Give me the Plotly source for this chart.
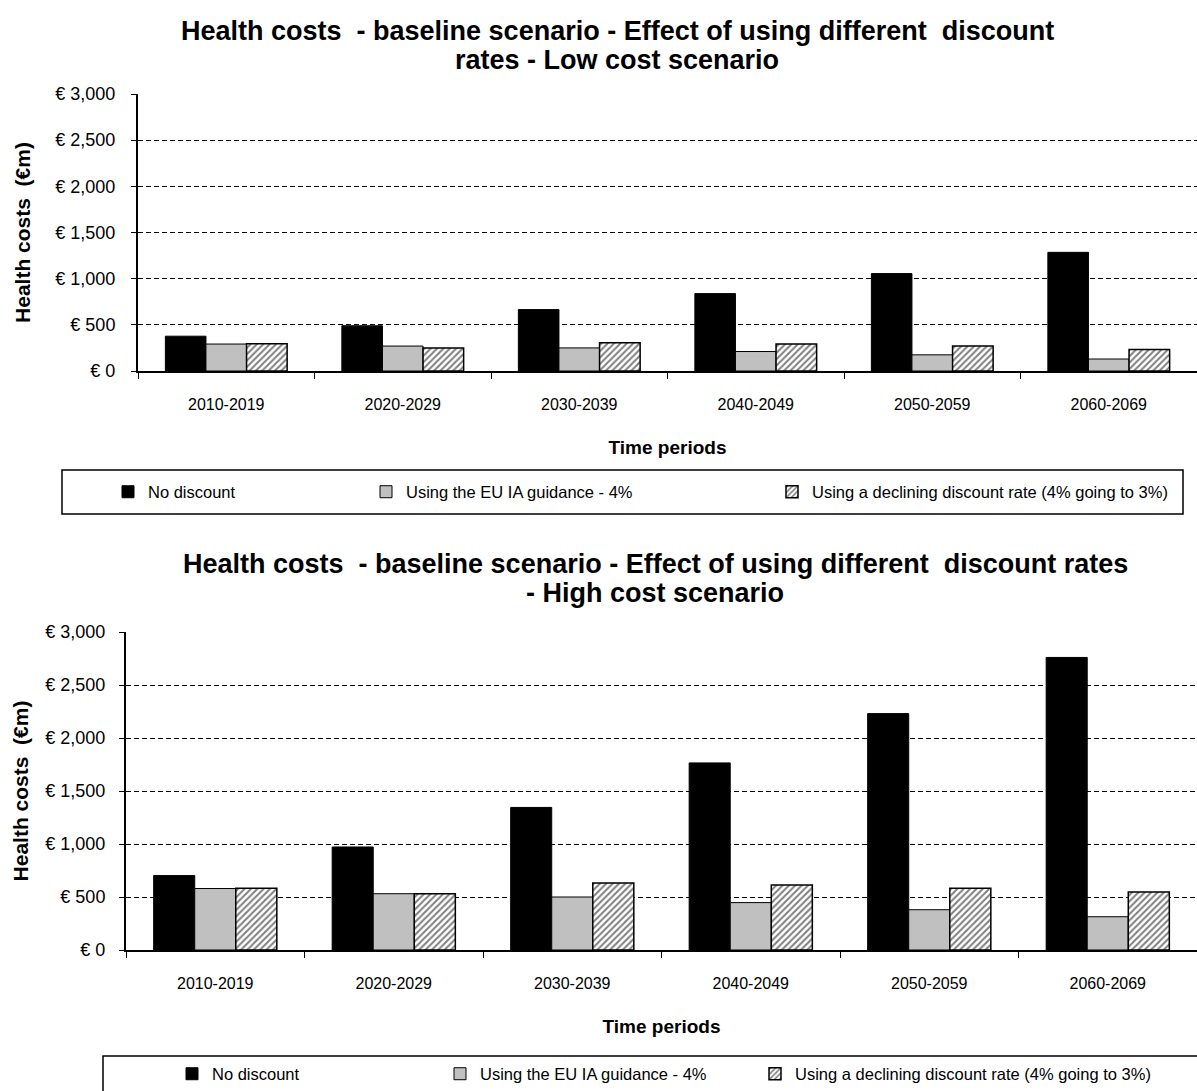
import plotly.graph_objects as go

# Ten-year periods on the category axis
periods = ["2010-2019", "2020-2029", "2030-2039", "2040-2049", "2050-2059", "2060-2069"]

series_names = [
    "No discount",
    "Using the EU IA guidance - 4%",
    "Using a declining discount rate (4% going to 3%)",
]

# Low cost scenario, health costs in €m
low_no_discount = [377, 490, 665, 838, 1055, 1285]
low_eu_guidance = [292, 270, 250, 211, 175, 130]
low_declining = [295, 250, 307, 293, 271, 232]

# High cost scenario, health costs in €m
high_no_discount = [702, 972, 1345, 1765, 2230, 2760]
high_eu_guidance = [580, 531, 500, 447, 380, 314]
high_declining = [582, 531, 632, 613, 582, 547]

# Value axis ticks
y_tickvals = [0, 500, 1000, 1500, 2000, 2500, 3000]
y_ticktext = ["€ 0", "€ 500", "€ 1,000", "€ 1,500", "€ 2,000", "€ 2,500", "€ 3,000"]

top_title = ["Health costs  - baseline scenario - Effect of using different  discount",
             "rates - Low cost scenario"]
bottom_title = ["Health costs  - baseline scenario - Effect of using different  discount rates",
                "- High cost scenario"]

W, H = 1197, 1091
FONT = "Liberation Sans, Arial, sans-serif"


def px_x(p):
    return p / W


def px_y(p):
    return 1 - p / H


def bar_styles():
    return [
        dict(color="black", line=dict(color="black", width=1)),
        dict(color="#c0c0c0", line=dict(color="black", width=1)),
        dict(color="white", line=dict(color="black", width=1.5),
             pattern=dict(shape="/", fgcolor="black", bgcolor="white", size=4.5, solidity=0.45)),
    ]


fig = go.Figure()

groups = [
    ("x", "y", [low_no_discount, low_eu_guidance, low_declining], ["legend2", "legend3", "legend4"]),
    ("x2", "y2", [high_no_discount, high_eu_guidance, high_declining], ["legend5", "legend6", "legend7"]),
]
for xa, ya, values, legends in groups:
    for name, vals, style, lg in zip(series_names, values, bar_styles(), legends):
        fig.add_trace(go.Bar(
            x=periods, y=vals, name=name, marker=style,
            xaxis=xa, yaxis=ya, legend=lg, hoverinfo="x+y+name",
        ))


def yaxis_style(standoff, label_standoff):
    return dict(
        range=[0, 3000], tickvals=y_tickvals, ticktext=y_ticktext,
        showgrid=True, gridcolor="black", gridwidth=1, griddash="5px,3px",
        zeroline=False, showline=True, linecolor="black", linewidth=2,
        ticks="outside", ticklen=5, tickwidth=1, tickcolor="black",
        ticklabelstandoff=label_standoff, automargin=False,
        tickfont=dict(family=FONT, size=18, color="black"),
        title=dict(text="Health costs  (€m)", standoff=standoff,
                   font=dict(family=FONT, size=21, color="black", weight="bold")),
    )


xaxis_common = dict(
    type="category", showgrid=False, zeroline=False,
    showline=True, linecolor="black", linewidth=2,
    ticks="outside", ticklen=6, tickwidth=1, tickcolor="black",
    tickson="boundaries", ticklabelstandoff=18, automargin=False,
    tickfont=dict(family=FONT, size=16, color="black"),
    title=dict(text="Time periods", standoff=28,
               font=dict(family=FONT, size=19, color="black", weight="bold")),
)

fig.update_layout(
    width=W, height=H,
    margin=dict(l=0, r=0, t=0, b=0, autoexpand=False),
    paper_bgcolor="white", plot_bgcolor="white",
    barmode="group", bargap=0.31, bargroupgap=0,
    font=dict(family=FONT, color="black"),
    xaxis=dict(domain=[px_x(138), 1.0], anchor="y", **xaxis_common),
    yaxis=dict(domain=[px_y(371), px_y(94)], anchor="x", **yaxis_style(19, 12)),
    xaxis2=dict(domain=[px_x(126), 1.0], anchor="y2", **xaxis_common),
    yaxis2=dict(domain=[px_y(950), px_y(632)], anchor="x2", **yaxis_style(11, 10)),
)

# One legend per entry so each sits where the boxed legend places it
legend_pos = {
    "legend2": (108, 492), "legend3": (366, 492), "legend4": (772, 492),
    "legend5": (172, 1074), "legend6": (440, 1074), "legend7": (755, 1074),
}
for key, (lx, ly) in legend_pos.items():
    fig.update_layout({key: dict(
        x=px_x(lx), y=px_y(ly), xanchor="left", yanchor="middle",
        orientation="h", bgcolor="rgba(0,0,0,0)", borderwidth=0,
        itemwidth=30, itemclick=False, itemdoubleclick=False,
        font=dict(family=FONT, size=16.5, color="black"),
    )})

# Frames around the legends
fig.add_shape(type="rect", xref="paper", yref="paper",
              x0=px_x(62), x1=px_x(1183), y0=px_y(514), y1=px_y(470),
              line=dict(color="black", width=1.5), fillcolor="rgba(0,0,0,0)", layer="below")
fig.add_shape(type="rect", xref="paper", yref="paper",
              x0=px_x(103), x1=1.01, y0=-0.02, y1=px_y(1056),
              line=dict(color="black", width=1.5), fillcolor="rgba(0,0,0,0)", layer="below")

# Chart titles, one annotation per line
title_lines = [
    (top_title[0], 617, 31), (top_title[1], 617, 60),
    (bottom_title[0], 655, 564), (bottom_title[1], 655, 593),
]
for text, cx, cy in title_lines:
    fig.add_annotation(
        text=text, xref="paper", yref="paper", x=px_x(cx), y=px_y(cy),
        xanchor="center", yanchor="middle", showarrow=False,
        font=dict(family=FONT, size=27, color="black", weight="bold"),
    )

fig.write_html("out.html")
